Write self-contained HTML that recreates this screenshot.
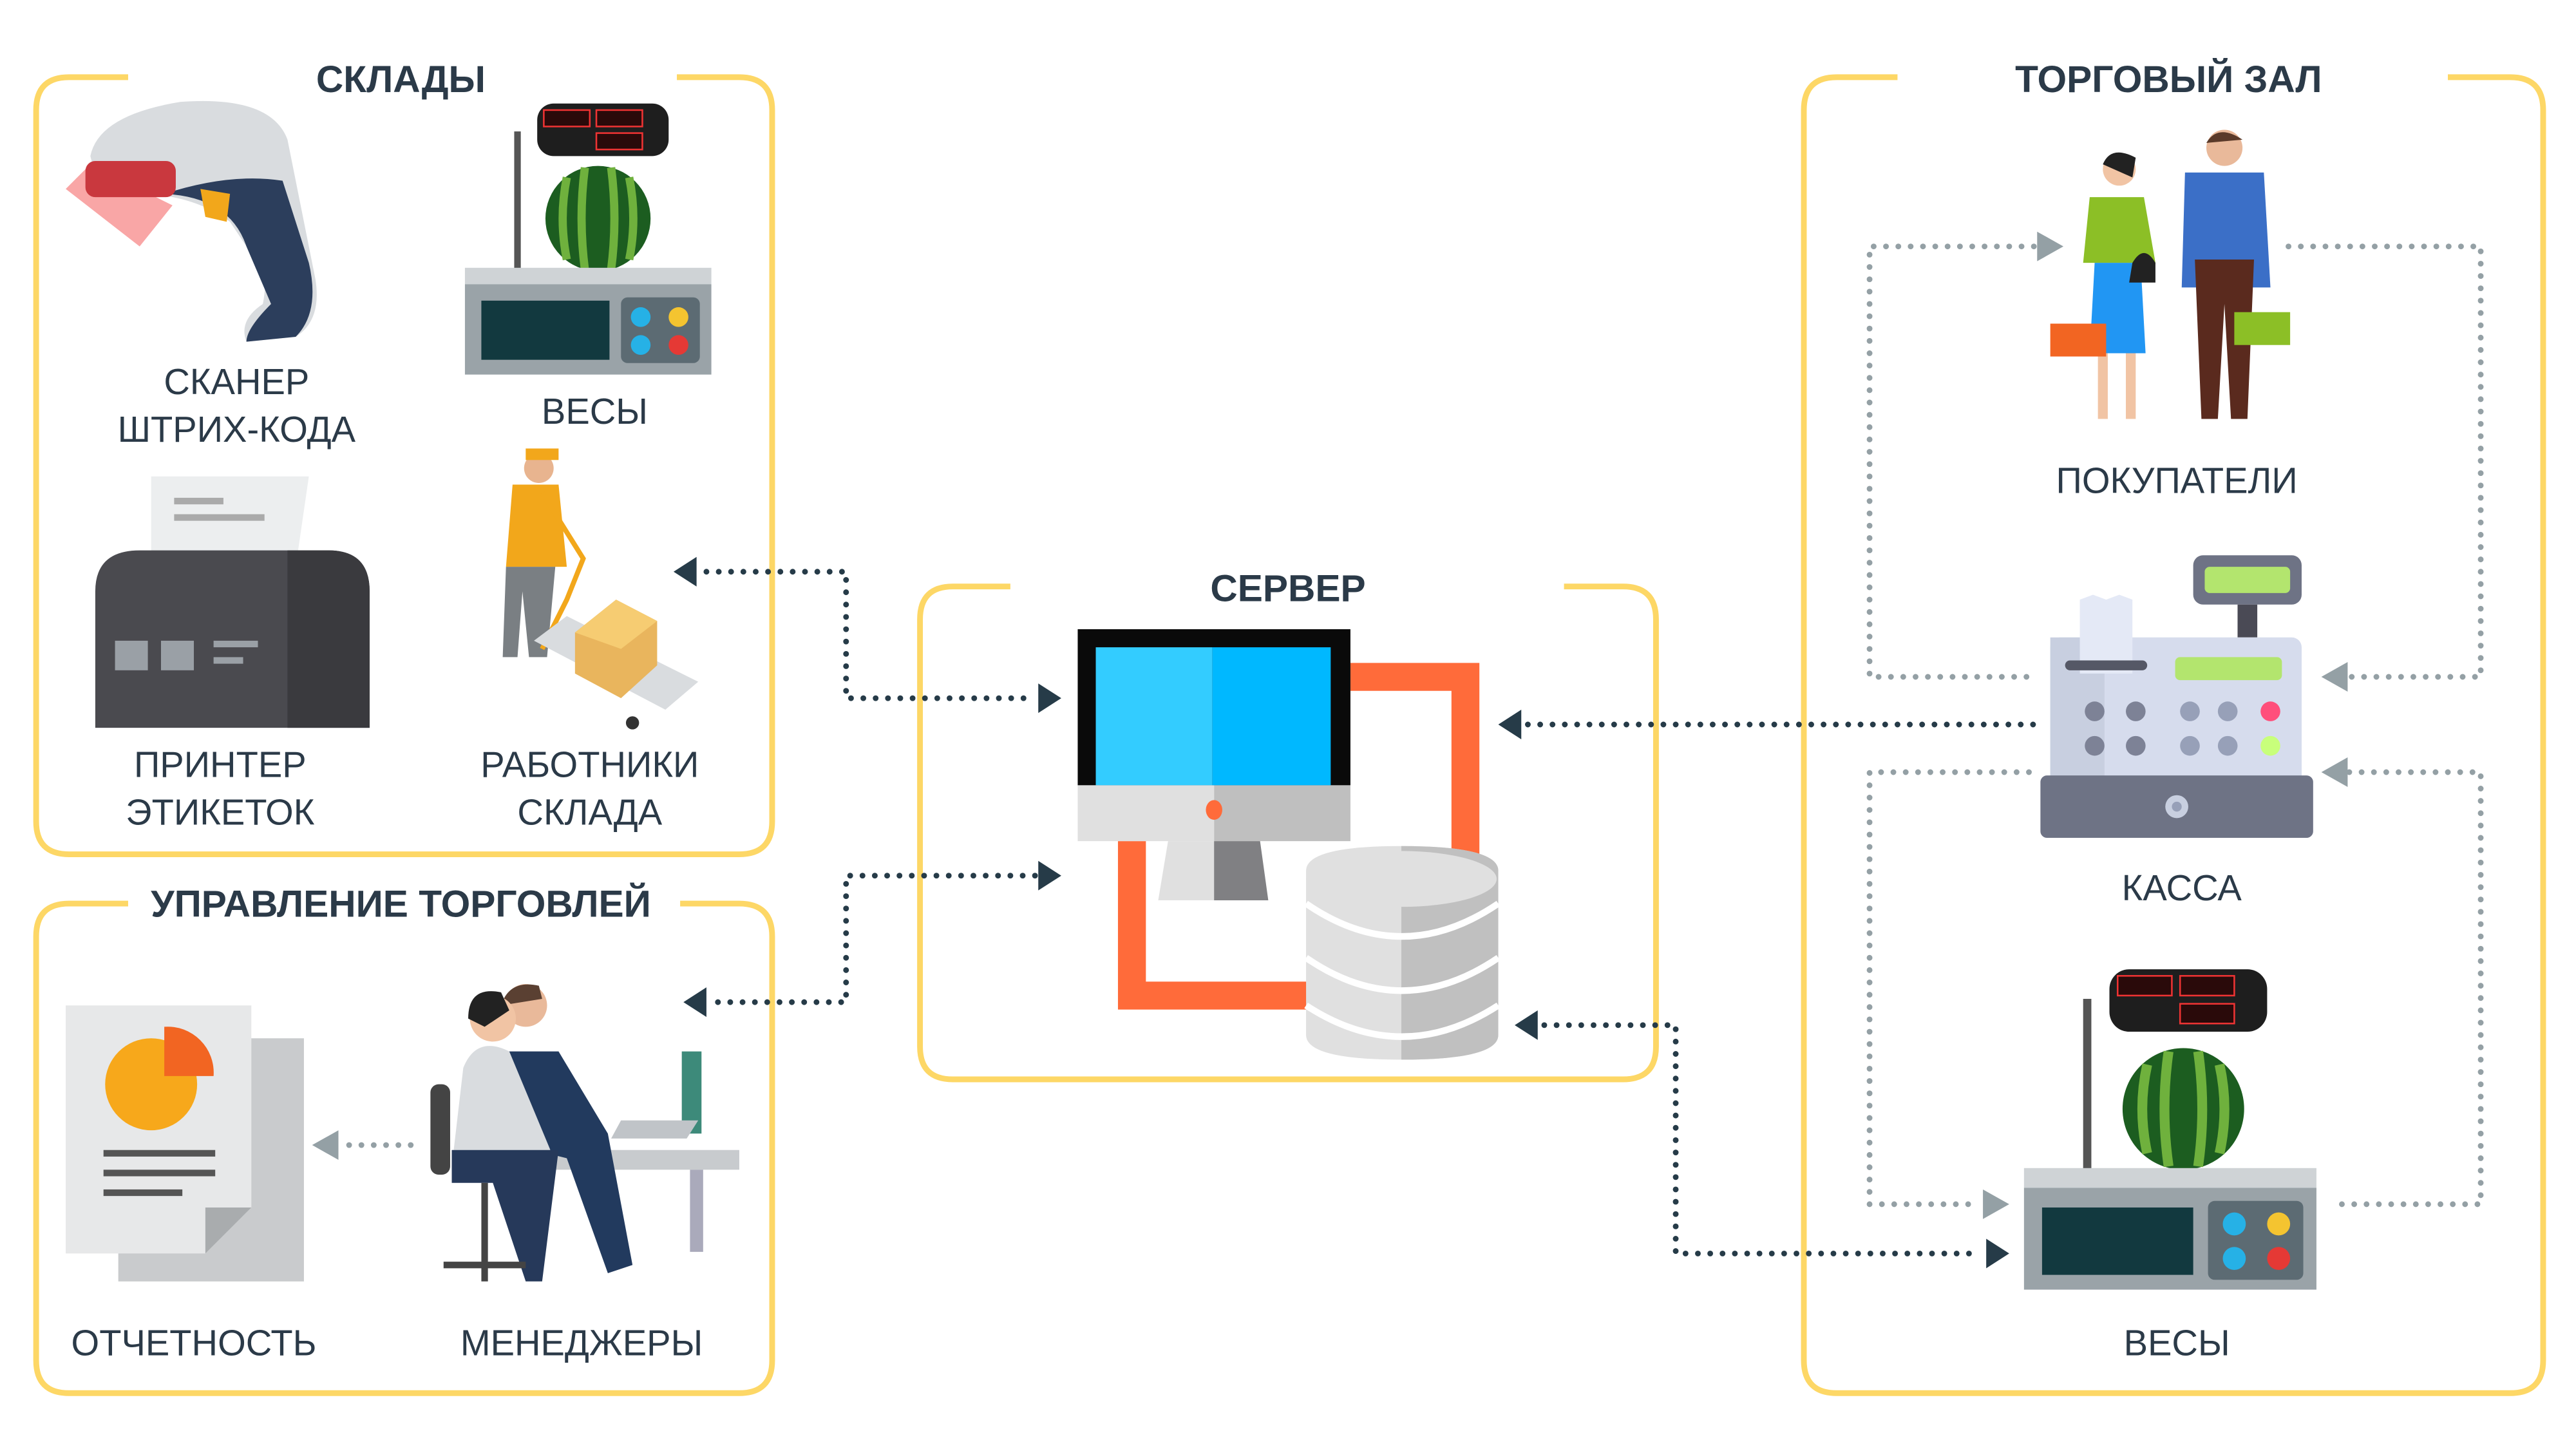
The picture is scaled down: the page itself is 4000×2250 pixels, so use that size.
<!DOCTYPE html>
<html><head><meta charset="utf-8"><style>
html,body{margin:0;padding:0;background:#fff}
svg{display:block}
text{font-family:"Liberation Sans",sans-serif;fill:#2b3a48}
.t{font-weight:bold;font-size:23px;text-anchor:middle}
.l{font-size:22px;text-anchor:middle}
.box{fill:none;stroke:#fdd766;stroke-width:3.5}
.d{fill:none;stroke:#263b48;stroke-width:3.5;stroke-dasharray:0 7.5;stroke-linecap:round}
.g{fill:none;stroke:#94a0a5;stroke-width:3.5;stroke-dasharray:0 7.5;stroke-linecap:round}
.ad{fill:#263b48}.ag{fill:#94a0a5}
</style></head><body>
<svg width="4000" height="2250" viewBox="0 0 1568 882" preserveAspectRatio="none" xmlns="http://www.w3.org/2000/svg">
<!-- boxes -->
<path class="box" d="M78 47 H42 Q22 47 22 67 V500 Q22 520 42 520 H450 Q470 520 470 500 V67 Q470 47 450 47 H412"/>
<text class="t" x="244" y="56">СКЛАДЫ</text>
<path class="box" d="M78 550 H42 Q22 550 22 570 V828 Q22 848 42 848 H450 Q470 848 470 828 V570 Q470 550 450 550 H414"/>
<text class="t" x="244" y="558">УПРАВЛЕНИЕ ТОРГОВЛЕЙ</text>
<path class="box" d="M615 357 H580 Q560 357 560 377 V637 Q560 657 580 657 H988 Q1008 657 1008 637 V377 Q1008 357 988 357 H952"/>
<text class="t" x="784" y="366">СЕРВЕР</text>
<path class="box" d="M1155 47 H1118 Q1098 47 1098 67 V828 Q1098 848 1118 848 H1528 Q1548 848 1548 828 V67 Q1548 47 1528 47 H1490"/>
<text class="t" x="1320" y="56">ТОРГОВЫЙ ЗАЛ</text>

<!-- scanner -->
<path d="M55 95 Q60 70 110 62 Q165 58 175 85 L192 170 Q196 195 180 205 L150 208 Q145 195 160 185 Q165 160 150 150 L140 135 Q120 120 90 118 Q60 118 55 95Z" fill="#d9dcdf"/>
<path d="M100 118 Q140 120 150 150 L165 185 Q150 200 150 208 L180 205 Q195 190 188 160 L172 110 Q140 105 100 118Z" fill="#2c3e5c"/>
<path d="M55 100 L40 115 L85 150 L105 125Z" fill="#f56b6b" opacity=".6"/>
<rect x="52" y="98" width="55" height="22" rx="6" fill="#c9383e"/>
<path d="M122 115 L140 118 L138 135 L125 132Z" fill="#f2a71b"/>
<text class="l" x="144" y="240">СКАНЕР</text>
<text class="l" x="144" y="269">ШТРИХ-КОДА</text>

<!-- scale top -->
<rect x="327" y="63" width="80" height="32" rx="10" fill="#1e1e1e"/>
<rect x="331" y="67" width="28" height="10" fill="#2a0a0a" stroke="#e33" stroke-width="1"/>
<rect x="363" y="67" width="28" height="10" fill="#2a0a0a" stroke="#e33" stroke-width="1"/>
<rect x="363" y="81" width="28" height="10" fill="#2a0a0a" stroke="#e33" stroke-width="1"/>
<rect x="313" y="80" width="4" height="85" fill="#555"/>
<ellipse cx="364" cy="133" rx="32" ry="32" fill="#1c5d20"/>
<path d="M345 108 Q340 133 345 158 M356 102 Q352 133 356 164 M372 102 Q376 133 372 164 M383 108 Q388 133 383 158" stroke="#6fb13d" stroke-width="5" fill="none"/>
<rect x="283" y="163" width="150" height="10" fill="#cfd3d6"/>
<rect x="283" y="173" width="150" height="55" fill="#9aa3a8"/>
<rect x="293" y="183" width="78" height="36" fill="#12393f"/>
<rect x="378" y="181" width="48" height="40" rx="4" fill="#5c6b73"/>
<circle cx="390" cy="193" r="6" fill="#26b1e6"/><circle cx="413" cy="193" r="6" fill="#f4c430"/>
<circle cx="390" cy="210" r="6" fill="#26b1e6"/><circle cx="413" cy="210" r="6" fill="#e53935"/>
<text class="l" x="362" y="258">ВЕСЫ</text>

<!-- printer -->
<path d="M92 290 H188 L180 345 H92Z" fill="#eceeef"/>
<rect x="106" y="303" width="30" height="4" fill="#aaa"/><rect x="106" y="313" width="55" height="4" fill="#aaa"/>
<path d="M58 360 Q58 335 85 335 H200 Q225 335 225 360 V443 H58Z" fill="#4a4a4f"/>
<path d="M175 335 H200 Q225 335 225 360 V443 H175Z" fill="#3a3a3e"/>
<rect x="70" y="390" width="20" height="18" fill="#9aa0a6"/><rect x="98" y="390" width="20" height="18" fill="#9aa0a6"/>
<rect x="130" y="390" width="27" height="4" fill="#9aa0a6"/><rect x="130" y="400" width="18" height="4" fill="#9aa0a6"/>
<text class="l" x="134" y="473">ПРИНТЕР</text>
<text class="l" x="134" y="502">ЭТИКЕТОК</text>

<!-- worker -->
<circle cx="328" cy="285" r="9" fill="#e8b48f"/><rect x="320" y="273" width="20" height="7" fill="#f2a71b"/>
<path d="M312 295 H340 L345 345 H308Z" fill="#f2a71b"/>
<path d="M308 345 H338 L333 400 H322 L318 360 L315 400 H306Z" fill="#7a7f83"/>
<path d="M330 300 L355 340 L345 365 L330 395" stroke="#f2a71b" stroke-width="3" fill="none"/>
<path d="M325 390 L345 375 L425 415 L405 432Z" fill="#d9dcdf"/>
<path d="M350 385 L375 365 L400 378 L400 405 L378 425 L350 410Z" fill="#e9b55d"/>
<path d="M350 385 L375 365 L400 378 L378 395Z" fill="#f6cc72"/>
<circle cx="385" cy="440" r="4" fill="#333"/>
<text class="l" x="359" y="473">РАБОТНИКИ</text>
<text class="l" x="359" y="502">СКЛАДА</text>

<!-- reports -->
<rect x="72" y="632" width="113" height="148" fill="#c9cbcd"/>
<path d="M40 612 H153 V735 L125 763 H40Z" fill="#e7e8e9"/>
<path d="M153 735 L125 763 V735Z" fill="#a9acae"/>
<circle cx="92" cy="660" r="28" fill="#f7a81b"/>
<path d="M100 625 A28 28 0 0 1 130 655 H100Z" fill="#f26522"/>
<rect x="63" y="700" width="68" height="4" fill="#555"/><rect x="63" y="712" width="68" height="4" fill="#555"/><rect x="63" y="724" width="48" height="4" fill="#555"/>
<text class="l" x="118" y="825">ОТЧЕТНОСТЬ</text>

<!-- managers -->
<rect x="320" y="700" width="130" height="12" fill="#c8cbce"/>
<rect x="420" y="712" width="8" height="50" fill="#aab"/>
<rect x="415" y="640" width="12" height="50" fill="#3d8a7a"/>
<path d="M378 682 H425 L418 693 H372Z" fill="#c0c4c8"/>
<path d="M307 640 L340 640 L370 690 L385 770 L370 775 L345 705 L325 700Z" fill="#223a5e"/>
<circle cx="320" cy="612" r="13" fill="#e9b99a"/><path d="M305 612 Q310 596 328 600 L330 608 Z" fill="#5a4032"/>
<path d="M282 650 Q290 630 310 640 L335 700 L275 710Z" fill="#d9dcdf"/>
<path d="M275 700 H340 L330 780 L320 780 L300 720 H275Z" fill="#26395a"/>
<circle cx="300" cy="620" r="14" fill="#f1c4a4"/><path d="M285 620 Q285 600 305 604 L310 615 L295 625Z" fill="#222"/>
<rect x="262" y="660" width="12" height="55" rx="5" fill="#444"/>
<path d="M270 770 H320 M295 720 V780" stroke="#444" stroke-width="4"/>
<text class="l" x="354" y="825">МЕНЕДЖЕРЫ</text>

<!-- server -->
<path d="M822 412 H892 V522" stroke="#ff6b3a" stroke-width="17" fill="none"/>
<path d="M689 512 V606 H800" stroke="#ff6b3a" stroke-width="17" fill="none"/>
<rect x="656" y="383" width="166" height="95" fill="#0a0a0a"/>
<rect x="667" y="394" width="71" height="84" fill="#33ccff"/><rect x="738" y="394" width="72" height="84" fill="#00b8ff"/>
<rect x="656" y="478" width="83" height="34" fill="#e0e0e0"/><rect x="739" y="478" width="83" height="34" fill="#bfbfbf"/>
<ellipse cx="739" cy="493" rx="5" ry="6" fill="#ff6b3a"/>
<path d="M711 512 H739 V548 H705Z" fill="#e0e0e0"/><path d="M739 512 H767 L772 548 H739Z" fill="#808083"/>
<path d="M795 530 Q795 515 853 515 Q912 515 912 530 V630 Q912 645 853 645 Q795 645 795 630Z" fill="#e0e0e0"/>
<path d="M853 515 Q912 515 912 530 V630 Q912 645 853 645Z" fill="#c0c0c0"/>
<ellipse cx="853" cy="535" rx="58" ry="17" fill="#e0e0e0"/>
<path d="M795 550 Q853 590 912 550 M795 583 Q853 623 912 583 M795 612 Q853 650 912 612" stroke="#fff" stroke-width="4" fill="none"/>

<!-- people -->
<circle cx="1290" cy="103" r="10" fill="#f1c4a4"/><path d="M1280 100 Q1285 88 1300 96 L1298 108Z" fill="#222"/>
<path d="M1272 120 H1305 L1312 160 H1268Z" fill="#8cbf26"/>
<path d="M1275 160 H1303 L1306 215 H1272Z" fill="#2196f3"/>
<path d="M1280 215 V255 M1297 215 V255" stroke="#f1c4a4" stroke-width="6"/>
<rect x="1248" y="197" width="34" height="20" fill="#f26522"/>
<path d="M1298 160 Q1305 148 1312 160 V172 H1296Z" fill="#222"/>
<circle cx="1354" cy="90" r="11" fill="#e9b99a"/><path d="M1343 87 Q1350 75 1365 85 Z" fill="#5a3a2a"/>
<path d="M1330 105 H1378 L1382 175 H1328Z" fill="#3b6fc7"/>
<path d="M1336 158 H1372 L1368 255 H1358 L1354 185 L1350 255 H1340Z" fill="#5a2a1e"/>
<rect x="1360" y="190" width="34" height="20" fill="#8cbf26"/>
<text class="l" x="1325" y="300">ПОКУПАТЕЛИ</text>

<!-- kassa -->
<rect x="1335" y="338" width="66" height="30" rx="6" fill="#6e7385"/>
<rect x="1342" y="345" width="52" height="16" rx="3" fill="#b3e56e"/>
<rect x="1362" y="368" width="12" height="20" fill="#4a4a55"/>
<rect x="1248" y="388" width="153" height="90" rx="6" fill="#d6dced"/>
<rect x="1248" y="388" width="33" height="90" fill="#c8cfe0"/>
<path d="M1266 365 L1274 362 L1282 365 L1290 362 L1298 365 V410 H1266Z" fill="#e4e9f6"/>
<rect x="1257" y="402" width="50" height="6" rx="3" fill="#555866"/>
<rect x="1324" y="400" width="65" height="14" rx="3" fill="#b3e56e"/>
<g fill="#7d8296"><circle cx="1275" cy="433" r="6"/><circle cx="1300" cy="433" r="6"/><circle cx="1275" cy="454" r="6"/><circle cx="1300" cy="454" r="6"/></g>
<g fill="#97a0b8"><circle cx="1333" cy="433" r="6"/><circle cx="1356" cy="433" r="6"/><circle cx="1333" cy="454" r="6"/><circle cx="1356" cy="454" r="6"/></g>
<circle cx="1382" cy="433" r="6" fill="#ff4f7b"/><circle cx="1382" cy="454" r="6" fill="#c8ff7b"/>
<rect x="1242" y="472" width="166" height="38" rx="4" fill="#6e7385"/>
<circle cx="1325" cy="491" r="7" fill="#c8cfe0"/><circle cx="1325" cy="491" r="3" fill="#97a0b8"/>
<text class="l" x="1328" y="548">КАССА</text>

<!-- scale right -->
<rect x="1284" y="590" width="96" height="38" rx="12" fill="#1e1e1e"/>
<rect x="1289" y="594" width="33" height="12" fill="#2a0a0a" stroke="#e33" stroke-width="1"/>
<rect x="1327" y="594" width="33" height="12" fill="#2a0a0a" stroke="#e33" stroke-width="1"/>
<rect x="1327" y="611" width="33" height="12" fill="#2a0a0a" stroke="#e33" stroke-width="1"/>
<rect x="1268" y="608" width="5" height="104" fill="#555"/>
<ellipse cx="1329" cy="675" rx="37" ry="37" fill="#1c5d20"/>
<path d="M1307 648 Q1301 675 1307 702 M1320 640 Q1315 675 1320 710 M1338 640 Q1343 675 1338 710 M1351 648 Q1357 675 1351 702" stroke="#6fb13d" stroke-width="6" fill="none"/>
<rect x="1232" y="711" width="178" height="12" fill="#cfd3d6"/>
<rect x="1232" y="723" width="178" height="62" fill="#9aa3a8"/>
<rect x="1243" y="735" width="92" height="41" fill="#12393f"/>
<rect x="1344" y="731" width="58" height="48" rx="4" fill="#5c6b73"/>
<circle cx="1360" cy="745" r="7" fill="#26b1e6"/><circle cx="1387" cy="745" r="7" fill="#f4c430"/>
<circle cx="1360" cy="766" r="7" fill="#26b1e6"/><circle cx="1387" cy="766" r="7" fill="#e53935"/>
<text class="l" x="1325" y="825">ВЕСЫ</text>

<!-- connectors -->
<path class="d" d="M430 348 H515 V425 H630"/>
<path class="ad" d="M410 348 L424 339 V357Z M646 425 L632 416 V434Z"/>
<path class="d" d="M630 533 H515 V610 H435"/>
<path class="ad" d="M646 533 L632 524 V542Z M416 610 L430 601 V619Z"/>
<path class="d" d="M930 441 H1240"/>
<path class="ad" d="M912 441 L926 432 V450Z"/>
<path class="d" d="M940 624 H1020 V763 H1205"/>
<path class="ad" d="M922 624 L936 615 V633Z M1223 763 L1209 754 V772Z"/>
<path class="g" d="M250 697 H208"/>
<path class="ag" d="M190 697 L206 688 V706Z"/>
<path class="g" d="M1238 150 H1138 V412 H1240"/>
<path class="ag" d="M1256 150 L1240 141 V159Z"/>
<path class="g" d="M1393 150 H1510 V412 H1430"/>
<path class="ag" d="M1413 412 L1429 403 V421Z"/>
<path class="g" d="M1235 470 H1138 V733 H1205"/>
<path class="ag" d="M1223 733 L1207 724 V742Z"/>
<path class="g" d="M1430 470 H1510 V733 H1420"/>
<path class="ag" d="M1413 470 L1429 461 V479Z"/>
</svg>
</body></html>
